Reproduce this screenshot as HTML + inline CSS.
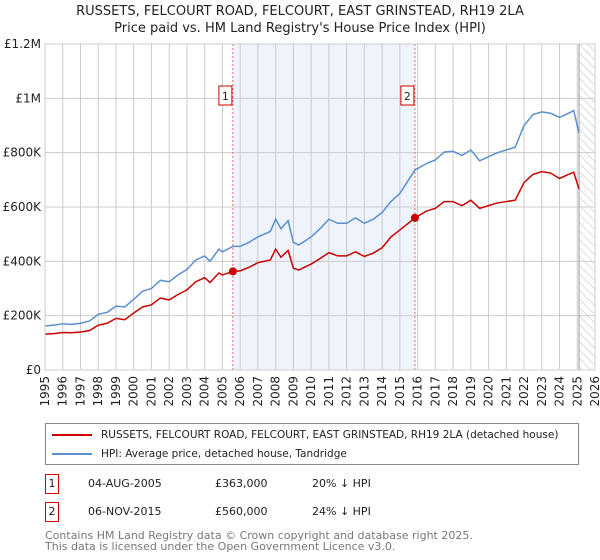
<!DOCTYPE html>
<html><head><meta charset="utf-8">
<style>
body{margin:0;background:#fff;font-family:"DejaVu Sans","Liberation Sans",sans-serif;}
#wrap{position:relative;width:600px;height:560px;overflow:hidden;}
.t{position:absolute;white-space:nowrap;}
</style></head><body>
<div id="wrap">
<div class="t" style="left:0;width:600px;text-align:center;top:3px;font-size:13px;color:#222;line-height:17px">RUSSETS, FELCOURT ROAD, FELCOURT, EAST GRINSTEAD, RH19 2LA<br>Price paid vs. HM Land Registry's House Price Index (HPI)</div>
<svg id="chart" width="600" height="420" style="position:absolute;left:0;top:0"></svg>
<div style="position:absolute;left:45px;top:423px;width:534px;height:42px;border:1px solid #888;box-sizing:border-box;font-size:10.5px;color:#222;white-space:nowrap">
 <div style="position:absolute;left:6px;top:5px"><span style="display:inline-block;width:40px;height:2px;background:#cc0000;vertical-align:middle;margin-right:9px"></span>RUSSETS, FELCOURT ROAD, FELCOURT, EAST GRINSTEAD, RH19 2LA (detached house)</div>
 <div style="position:absolute;left:6px;top:24px"><span style="display:inline-block;width:40px;height:2px;background:#5b8fd0;vertical-align:middle;margin-right:9px"></span>HPI: Average price, detached house, Tandridge</div>
</div>
<div style="position:absolute;left:45px;top:474px;font-size:11px;color:#222">
 <span style="position:absolute;left:0;top:0;width:12px;height:18px;border:1px solid #cc0000;text-align:center;line-height:18px">1</span>
 <span class="t" style="left:43px;top:3px">04-AUG-2005</span><span class="t" style="left:170px;top:3px">£363,000</span><span class="t" style="left:267px;top:3px">20% ↓ HPI</span>
</div>
<div style="position:absolute;left:45px;top:502px;font-size:11px;color:#222">
 <span style="position:absolute;left:0;top:0;width:12px;height:18px;border:1px solid #cc0000;text-align:center;line-height:18px">2</span>
 <span class="t" style="left:43px;top:3px">06-NOV-2015</span><span class="t" style="left:170px;top:3px">£560,000</span><span class="t" style="left:267px;top:3px">24% ↓ HPI</span>
</div>
<div class="t" style="left:45px;top:530px;font-size:11px;color:#777;line-height:11px">Contains HM Land Registry data © Crown copyright and database right 2025.<br>This data is licensed under the Open Government Licence v3.0.</div>
</div>
<script>
const yTicks=[0,200000,400000,600000,800000,1000000,1200000];
const yTickLabels=["£0","£200K","£400K","£600K","£800K","£1M","£1.2M"];
const xYears=[1995,1996,1997,1998,1999,2000,2001,2002,2003,2004,2005,2006,2007,2008,2009,2010,2011,2012,2013,2014,2015,2016,2017,2018,2019,2020,2021,2022,2023,2024,2025,2026];
const hpiDates=[1995,1995.5,1996,1996.5,1997,1997.5,1998,1998.5,1999,1999.5,2000,2000.5,2001,2001.5,2002,2002.5,2003,2003.5,2004,2004.3,2004.8,2005,2005.6,2006,2006.5,2007,2007.7,2008,2008.3,2008.7,2009,2009.3,2010,2010.5,2011,2011.5,2012,2012.5,2013,2013.5,2014,2014.5,2015,2015.85,2016.5,2017,2017.5,2018,2018.5,2019,2019.5,2020,2020.5,2021,2021.5,2022,2022.5,2023,2023.5,2024,2024.5,2024.8,2025.1];
const hpiValues=[162000,165000,170000,168000,172000,180000,205000,212000,235000,232000,260000,290000,300000,330000,325000,350000,370000,405000,420000,400000,445000,435000,455000,455000,470000,490000,510000,555000,520000,550000,470000,460000,490000,520000,555000,540000,540000,560000,540000,555000,580000,620000,650000,736000,760000,773000,802000,805000,790000,810000,770000,785000,800000,810000,820000,900000,940000,950000,945000,930000,945000,955000,872000];
const priceDates=[1995,1995.5,1996,1996.5,1997,1997.5,1998,1998.5,1999,1999.5,2000,2000.5,2001,2001.5,2002,2002.5,2003,2003.5,2004,2004.3,2004.8,2005,2005.6,2006,2006.5,2007,2007.7,2008,2008.3,2008.7,2009,2009.3,2010,2010.5,2011,2011.5,2012,2012.5,2013,2013.5,2014,2014.5,2015,2015.85,2016.5,2017,2017.5,2018,2018.5,2019,2019.5,2020,2020.5,2021,2021.5,2022,2022.5,2023,2023.5,2024,2024.5,2024.8,2025.1];
const priceValues=[132000,134000,138000,137000,140000,145000,165000,172000,190000,185000,210000,232000,240000,265000,258000,278000,295000,325000,340000,322000,357000,350000,363000,365000,378000,395000,405000,445000,415000,440000,375000,368000,390000,410000,432000,420000,420000,435000,418000,430000,450000,490000,515000,560000,585000,595000,620000,620000,605000,625000,595000,605000,615000,620000,625000,690000,720000,730000,725000,705000,720000,728000,666000];
const saleDates=[2005.59,2015.85];
const saleValues=[363000,560000];
const saleLabels=["1","2"];
const ns="http://www.w3.org/2000/svg",svg=document.getElementById('chart');
const X0=45,X1=595,Y0=370,Y1=44,xmin=1995,xmax=2026,ymax=1200000;
const xs=d=>X0+(d-xmin)/(xmax-xmin)*(X1-X0);
const ys=v=>Y0-v/ymax*(Y0-Y1);
function mk(tag,attrs,parent){const e=document.createElementNS(ns,tag);for(const k in attrs)e.setAttribute(k,attrs[k]);(parent||svg).appendChild(e);return e;}
const defs=mk('defs',{});
const pat=mk('pattern',{id:'hatch',width:6,height:6,patternUnits:'userSpaceOnUse',patternTransform:'rotate(-45)'},defs);
mk('line',{x1:0,y1:0,x2:0,y2:6,stroke:'#bbb','stroke-width':1},pat);
let r=mk('rect',{x:xs(saleDates[0]),y:Y1,width:xs(saleDates[1])-xs(saleDates[0]),height:Y0-Y1,fill:'#eef3fc'});

r=mk('rect',{x:xs(2025.1),y:Y1,width:X1-xs(2025.1),height:Y0-Y1,fill:'url(#hatch)'});

xYears.forEach(yr=>{const l=mk('line',{x1:xs(yr),x2:xs(yr),y1:Y1,y2:Y0,stroke:'#ccc'});

const t=mk('text',{x:0,y:0,'font-size':12,fill:'#222','text-anchor':'end',transform:`translate(${xs(yr)+4},${Y0+6}) rotate(-90)`});t.textContent=yr;
});
yTicks.forEach((v,i)=>{const l=mk('line',{x1:X0,x2:X1,y1:ys(v),y2:ys(v),stroke:'#ccc'});

const t=mk('text',{x:X0-4,y:ys(v)+4,'font-size':12,fill:'#222','text-anchor':'end'});t.textContent=yTickLabels[i];
});
let l=mk('line',{x1:xs(2025.1),x2:xs(2025.1),y1:Y1,y2:Y0,stroke:'#999'});

saleDates.forEach((d,i)=>{const v=mk('line',{x1:xs(d),x2:xs(d),y1:Y1,y2:Y0,stroke:'#f06060','stroke-dasharray':'2,2'});
});
let p=mk('polyline',{points:hpiDates.map((d,i)=>xs(d)+','+ys(hpiValues[i])).join(' '),fill:'none',stroke:'#5b8fd0','stroke-width':1.5});

p=mk('polyline',{points:priceDates.map((d,i)=>xs(d)+','+ys(priceValues[i])).join(' '),fill:'none',stroke:'#cc0000','stroke-width':1.5});

saleDates.forEach((d,i)=>{const c=mk('circle',{cx:xs(d),cy:ys(saleValues[i]),r:4,fill:'#cc0000'});

const b=mk('rect',{x:xs(d)-14,y:86,width:13,height:19,fill:'#fff',stroke:'#cc0000'});

const t=mk('text',{x:xs(d)-7.5,y:100,'font-size':11,fill:'#222','text-anchor':'middle'});t.textContent=saleLabels[i];
});
r=mk('rect',{x:X0,y:Y1,width:X1-X0,height:Y0-Y1,fill:'none',stroke:'#ccc'});

</script>
</body></html>
